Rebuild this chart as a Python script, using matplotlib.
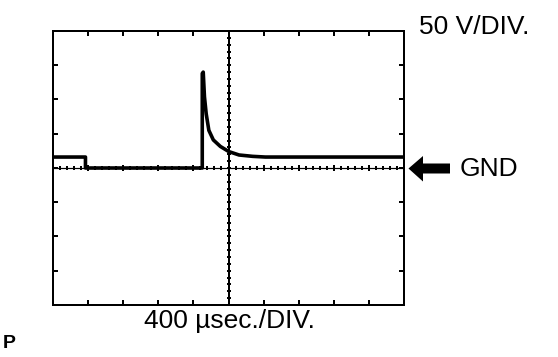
import numpy as np
import matplotlib
matplotlib.use("Agg")
import matplotlib.pyplot as plt
from matplotlib.patches import Polygon

# ---- data (time in microseconds, voltage in volts) ----
time_us = [0, 370, 370, 1701, 1701, 1712, 1726, 1746, 1776, 1827, 1907, 2003, 2120, 2276, 2420, 4000]
volts = [16, 16, 0, 0, 138, 140, 104, 79, 55, 41, 31.5, 24, 19, 17, 16, 16]

x_div_us = 400   # time per division
y_div_v = 50     # volts per division
n_xdiv = 10
n_ydiv = 8

volt_label = "50 V/DIV."
time_label = "400 µsec./DIV."
gnd_label = "GND"
corner_label = "P"

W, H, DPI = 558, 357, 100
fig = plt.figure(figsize=(W / DPI, H / DPI), dpi=DPI)
px = 72.0 / DPI  # points per pixel

ax = fig.add_axes([53 / W, 1 - 305 / H, 351 / W, 274 / H])
xmax = x_div_us * n_xdiv
ymax = y_div_v * n_ydiv / 2
ax.set_xlim(0, xmax)
ax.set_ylim(-ymax, ymax)

for s in ax.spines.values():
    s.set_linewidth(2 * px)
ax.set_xticks(np.arange(0, xmax + 1, x_div_us))
ax.set_yticks(np.arange(-ymax, ymax + 1, y_div_v))
ax.tick_params(direction="in", length=5 * px, width=2 * px, top=True, right=True,
               labelbottom=False, labelleft=False)

# center graticule lines
xc = xmax / 2
ax.axhline(0, color="k", lw=1.2 * px, zorder=2)
ax.axvline(xc, color="k", lw=2 * px, zorder=2)
sub_x = np.arange(0, xmax + 1, x_div_us / 5)
sub_y = np.arange(-ymax, ymax + 1, y_div_v / 5)
ax.plot(sub_x, np.zeros_like(sub_x), ls="none", marker="|", ms=3.5 * px,
        mew=2 * px, color="k", zorder=2, clip_on=False)
maj_x = np.arange(0, xmax + 1, x_div_us)
ax.plot(maj_x, np.zeros_like(maj_x), ls="none", marker="|", ms=5.5 * px,
        mew=2 * px, color="k", zorder=2, clip_on=False)
ax.plot(np.full_like(sub_y, xc), sub_y, ls="none", marker="_", ms=5 * px,
        mew=2 * px, color="k", zorder=2, clip_on=False)

# trace
ax.plot(time_us, volts, color="k", lw=3.6 * px, solid_joinstyle="round", zorder=3)

# texts
font = "Liberation Sans"
fig.text(419 / W, 1 - 33.5 / H, volt_label, fontsize=19, family=font,
         ha="left", va="baseline")
fig.text(460 / W, 1 - 176.5 / H, gnd_label, fontsize=19, family=font,
         ha="left", va="baseline")
fig.text(229 / W, 1 - 328 / H, time_label, fontsize=19, family=font,
         ha="center", va="baseline")
fig.text(3 / W, 1 - 348 / H, corner_label, fontsize=14, family=font,
         fontweight="bold", ha="left", va="baseline")

# GND arrow (pixel geometry)
tip_x, tip_y = 408.5, 168.5
pts = [(tip_x, tip_y), (423, 156), (423, 163.5), (450, 163.5),
       (450, 173.5), (423, 173.5), (423, 181.5)]
pts_in = [(x / DPI, (H - y) / DPI) for x, y in pts]
fig.patches.append(Polygon(pts_in, closed=True, fc="k", ec="none",
                           transform=fig.dpi_scale_trans))

fig.savefig("out.png", dpi=DPI)
